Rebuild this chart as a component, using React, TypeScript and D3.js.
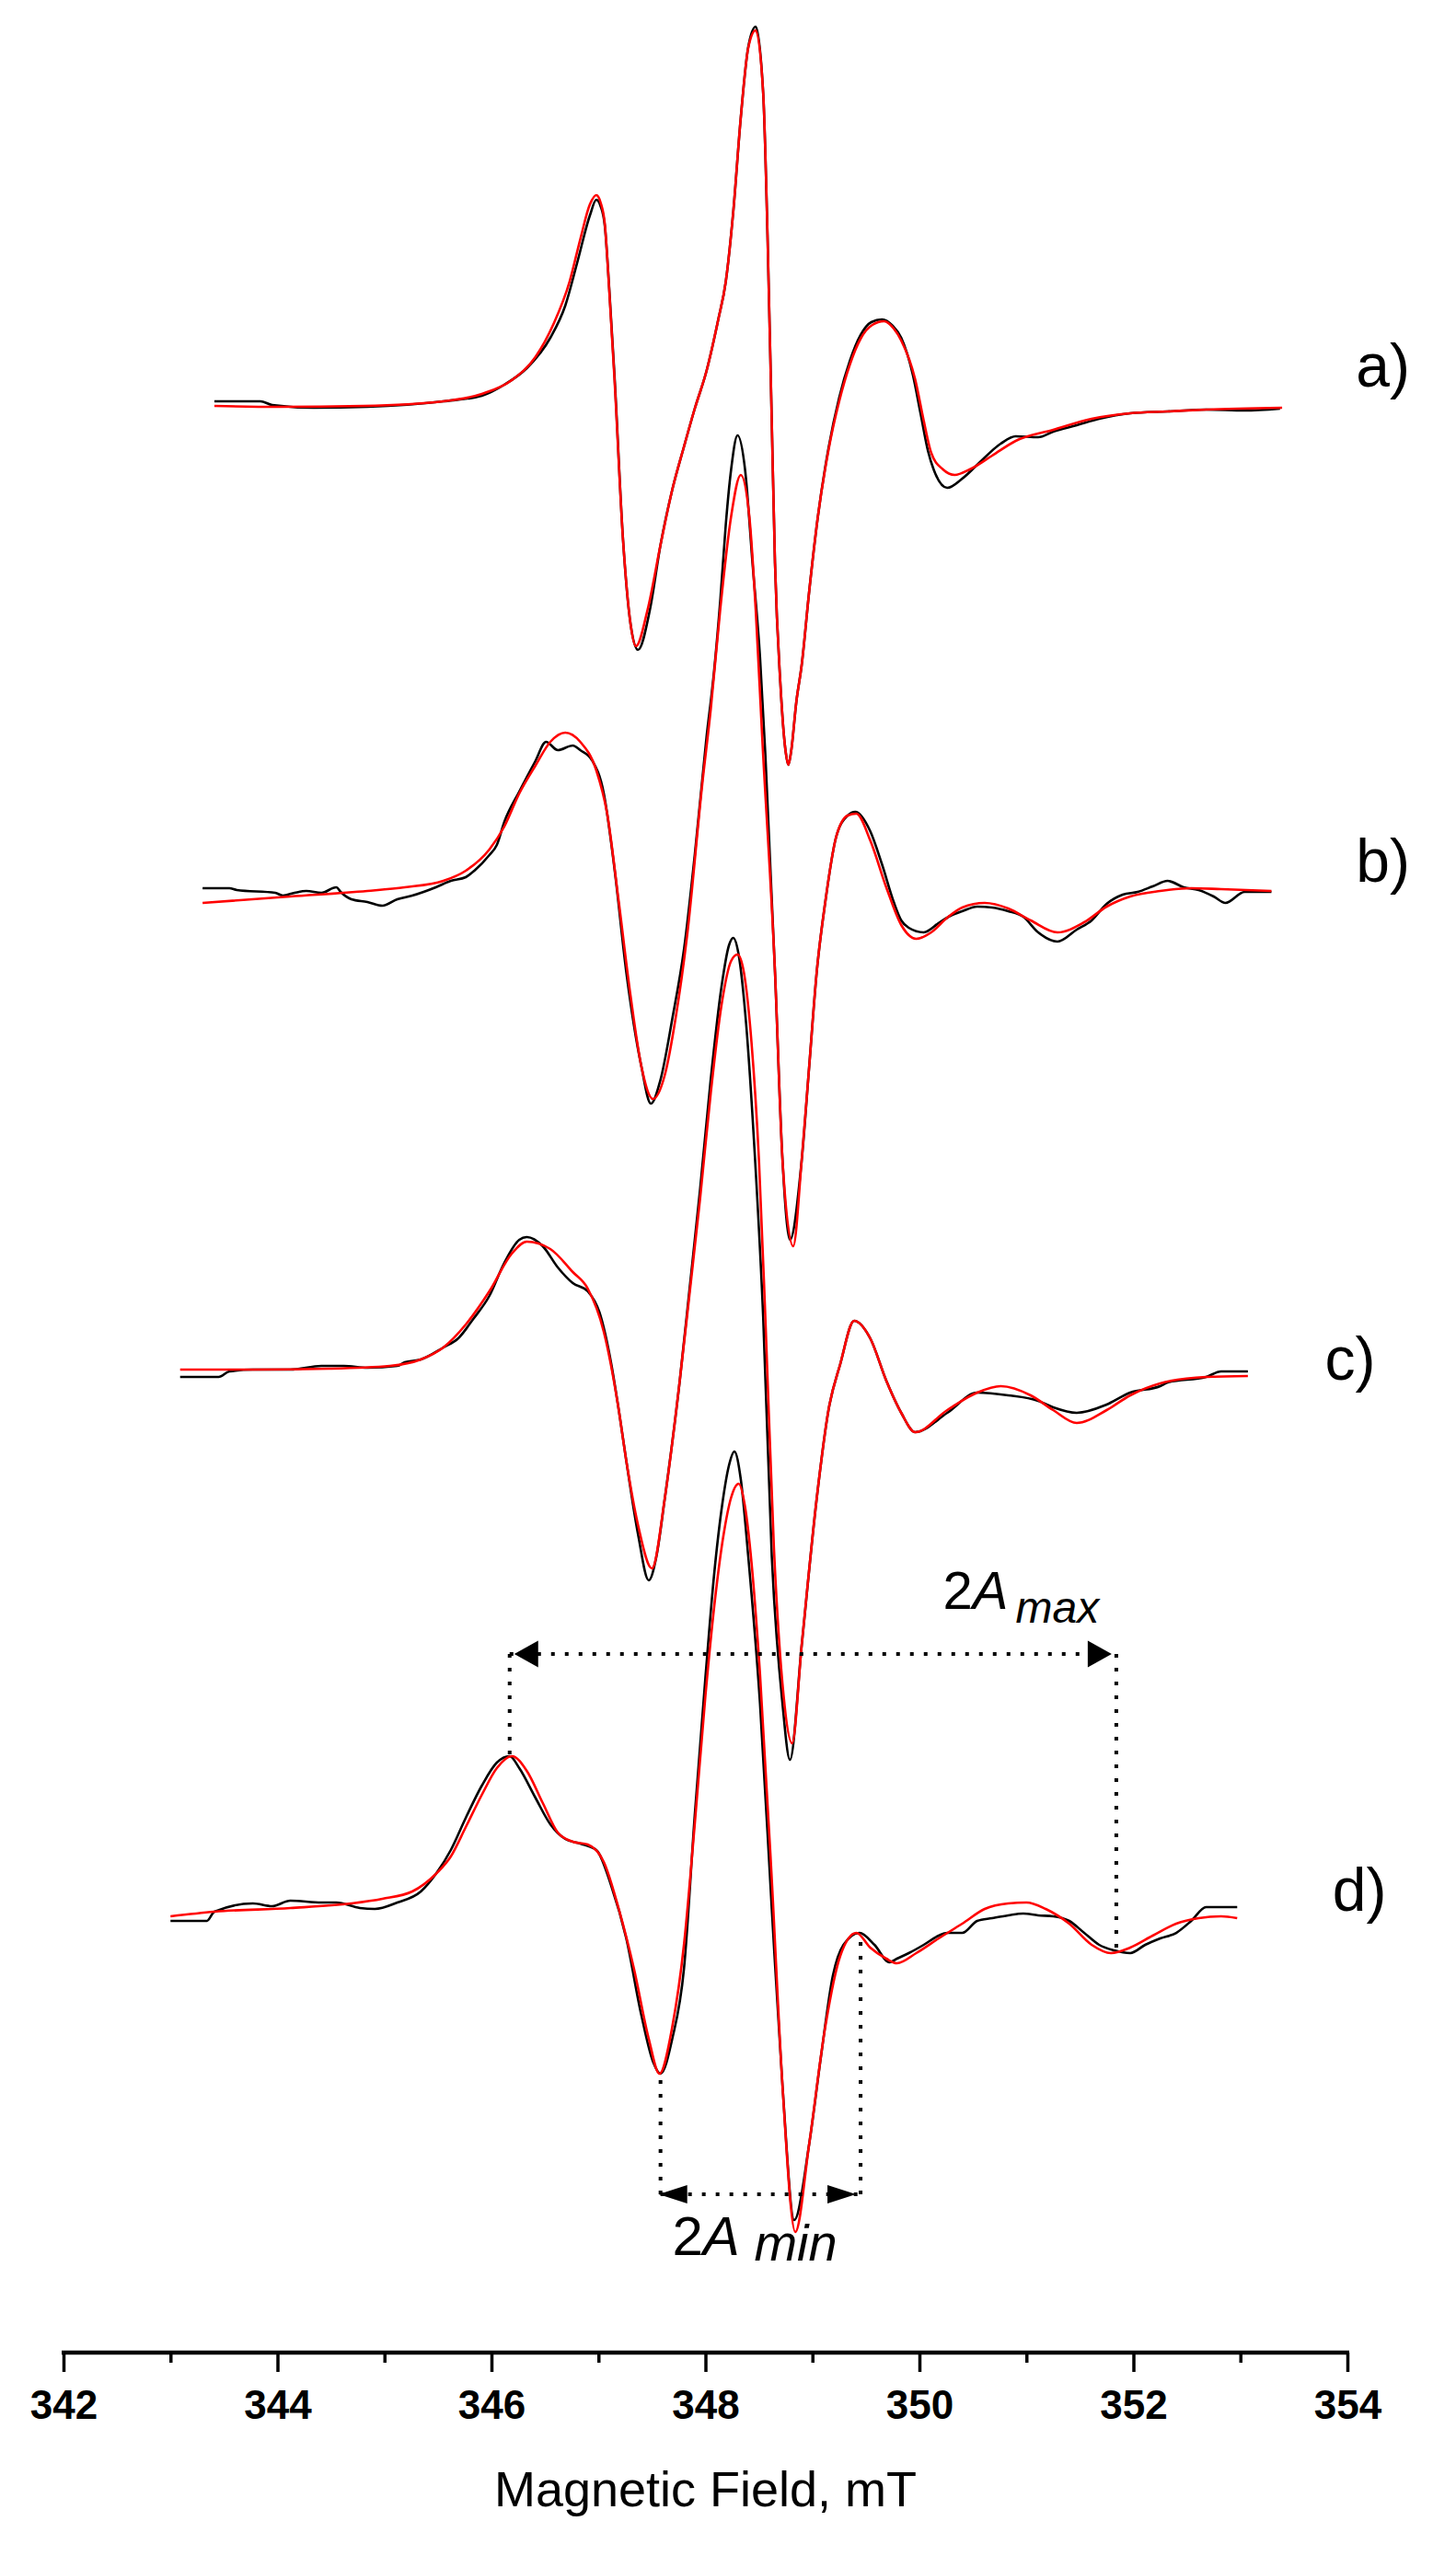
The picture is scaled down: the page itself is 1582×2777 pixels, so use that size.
import React, { useRef, useEffect } from "react";
import * as d3 from "d3";

type Pt = [number, number];

const W = 1582;
const H = 2777;

// axis
const fieldTicks = [342, 344, 346, 348, 350, 352, 354];
const fieldMinorTicks = [343, 345, 347, 349, 351, 353];
const panelLabels = ["a)", "b)", "c)", "d)"];

// vertical offset of every spectrum, same arbitrary units as the intensities
const offsets = [2118, 1590, 1068, 478];

// [field (mT), intensity (a.u.)]
const aExp: Pt[] = [
  [343.41, 6], [343.84, 6], [343.95, 2], [344.34, -1], [344.84, 0], [345.55, 6], [345.91, 12],
  [346.12, 24], [346.33, 42], [346.55, 75], [346.69, 110], [346.8, 156], [346.92, 208], [346.98, 225],
  [347.02, 218], [347.06, 196], [347.1, 130], [347.15, 34], [347.23, -145], [347.3, -236], [347.37, -264],
  [347.48, -221], [347.58, -150], [347.69, -90], [347.8, -43], [347.9, -2], [348.01, 39], [348.12, 95],
  [348.19, 136], [348.26, 212], [348.33, 314], [348.4, 391], [348.47, 413], [348.54, 340], [348.58, 187],
  [348.62, -17], [348.65, -170], [348.7, -300], [348.75, -375], [348.775, -389], [348.8, -375],
  [348.85, -320], [348.9, -280], [348.97, -200], [349.05, -120], [349.15, -45], [349.25, 10],
  [349.35, 50], [349.45, 78], [349.55, 92], [349.65, 95], [349.75, 88], [349.83, 75], [349.94, 34],
  [350.01, -7], [350.08, -48], [350.15, -73], [350.26, -88], [350.4, -78], [350.54, -63], [350.76, -40],
  [350.9, -32], [351.11, -33], [351.25, -27], [351.47, -20], [351.68, -13], [351.97, -7], [352.32, -5],
  [352.68, -3], [353.04, -4], [353.37, -2],
];
const aSim: Pt[] = [
  [343.41, 1], [344.0, 0], [344.8, 1], [345.55, 6], [345.91, 14], [346.19, 29], [346.41, 54],
  [346.58, 90], [346.73, 136], [346.83, 182], [346.92, 220], [346.98, 230], [347.02, 222], [347.06, 198],
  [347.1, 128], [347.15, 30], [347.23, -145], [347.3, -236], [347.35, -260], [347.46, -220], [347.58, -150],
  [347.69, -90], [347.8, -43], [347.9, -2], [348.01, 39], [348.12, 95], [348.19, 136], [348.26, 212],
  [348.33, 314], [348.4, 390], [348.47, 409], [348.54, 340], [348.58, 187], [348.62, -17], [348.65, -170],
  [348.7, -300], [348.75, -375], [348.775, -389], [348.8, -375], [348.85, -320], [348.9, -280],
  [348.97, -200], [349.05, -120], [349.15, -47], [349.25, 6], [349.35, 46], [349.45, 74], [349.56, 89],
  [349.67, 93], [349.76, 85], [349.83, 72], [349.96, 30], [350.04, -15], [350.11, -50], [350.22, -68],
  [350.33, -74], [350.47, -68], [350.68, -53], [350.9, -37], [351.25, -25], [351.61, -13], [351.97, -7],
  [352.32, -5], [352.68, -3], [353.39, -1],
];

const bExp: Pt[] = [
  [343.3, 5], [343.55, 5], [343.62, 3], [343.98, 0], [344.05, -3], [344.16, 0], [344.27, 2], [344.41, 0],
  [344.55, 6], [344.59, 1], [344.69, -7], [344.84, -10], [344.98, -14], [345.12, -7], [345.26, -3],
  [345.48, 6], [345.62, 13], [345.76, 17], [345.84, 24], [345.98, 41], [346.05, 52], [346.12, 77],
  [346.26, 110], [346.41, 143], [346.51, 164], [346.62, 155], [346.76, 160], [346.83, 155], [346.94, 144],
  [347.05, 108], [347.15, 26], [347.26, -86], [347.4, -188], [347.49, -229], [347.58, -203],
  [347.69, -137], [347.8, -61], [347.9, 41], [348.01, 169], [348.08, 240], [348.14, 320], [348.19, 400],
  [348.24, 460], [348.3, 497], [348.37, 460], [348.44, 358], [348.51, 256], [348.56, 150], [348.65, -86],
  [348.72, -290], [348.79, -377], [348.9, -290], [348.97, -188], [349.04, -86], [349.12, -10],
  [349.22, 60], [349.33, 84], [349.4, 88], [349.54, 67], [349.65, 31], [349.76, -10], [349.83, -30],
  [349.9, -38], [350.04, -43], [350.19, -32], [350.29, -25], [350.4, -20], [350.54, -15], [350.68, -16],
  [350.83, -20], [350.97, -26], [351.11, -43], [351.29, -53], [351.47, -40], [351.61, -30],
  [351.75, -12], [351.9, -2], [352.04, 1], [352.18, 7], [352.32, 13], [352.47, 6], [352.61, 3],
  [352.75, -4], [352.86, -11], [353.04, 1], [353.29, 1],
];
const bSim: Pt[] = [
  [343.3, -11], [344.12, -4], [344.84, 2], [345.19, 6], [345.55, 13], [345.76, 24], [345.98, 47],
  [346.12, 72], [346.26, 108], [346.41, 138], [346.55, 164], [346.69, 174], [346.83, 164], [346.98, 133],
  [347.08, 87], [347.19, -10], [347.3, -112], [347.4, -188], [347.51, -224], [347.62, -198],
  [347.72, -137], [347.83, -45], [347.97, 118], [348.05, 200], [348.14, 310], [348.24, 409],
  [348.33, 454], [348.41, 409], [348.47, 307], [348.53, 170], [348.65, -86], [348.72, -290],
  [348.82, -384], [348.9, -290], [348.97, -188], [349.04, -86], [349.12, -10], [349.22, 60],
  [349.33, 84], [349.41, 86], [349.54, 57], [349.69, 6], [349.83, -35], [349.97, -50], [350.11, -43],
  [350.26, -27], [350.4, -16], [350.61, -11], [350.83, -17], [351.04, -30], [351.29, -43],
  [351.54, -32], [351.75, -15], [351.97, -4], [352.25, 2], [352.54, 5], [352.82, 4], [353.29, 2],
];

const cExp: Pt[] = [
  [343.09, -4], [343.45, -4], [343.55, 2], [343.77, 4], [344.12, 4], [344.41, 8], [344.62, 8],
  [344.84, 6], [345.12, 8], [345.19, 12], [345.34, 15], [345.55, 28], [345.69, 38], [345.83, 59],
  [345.98, 84], [346.12, 120], [346.26, 145], [346.33, 148], [346.48, 138], [346.62, 115], [346.76, 98],
  [346.9, 89], [347.01, 66], [347.12, 10], [347.19, -40], [347.26, -95], [347.37, -175], [347.47, -225],
  [347.54, -200], [347.62, -136], [347.76, -8], [347.85, 90], [347.95, 200], [348.05, 320],
  [348.15, 420], [348.22, 465], [348.26, 473], [348.31, 455], [348.38, 380], [348.46, 240], [348.54, 60],
  [348.62, -199], [348.72, -359], [348.79, -420], [348.9, -295], [349.04, -136], [349.15, -40],
  [349.26, 10], [349.39, 57], [349.54, 38], [349.69, -8], [349.83, -43], [349.96, -64], [350.26, -43],
  [350.54, -21], [350.83, -24], [351.11, -30], [351.25, -37], [351.47, -43], [351.75, -34],
  [351.97, -21], [352.25, -14], [352.32, -10], [352.68, -4], [352.82, 2], [353.07, 2],
];
const cSim: Pt[] = [
  [343.09, 4], [343.77, 4], [344.48, 5], [345.05, 8], [345.34, 15], [345.55, 28], [345.76, 53],
  [345.98, 89], [346.19, 130], [346.33, 143], [346.55, 135], [346.76, 110], [346.9, 92], [347.05, 45],
  [347.19, -40], [347.26, -95], [347.37, -165], [347.5, -212], [347.62, -136], [347.76, -8],
  [347.85, 85], [347.95, 190], [348.05, 305], [348.15, 400], [348.24, 448], [348.3, 455], [348.36, 435],
  [348.43, 360], [348.5, 232], [348.56, 60], [348.64, -190], [348.73, -350], [348.81, -402],
  [348.9, -295], [349.04, -136], [349.15, -40], [349.26, 10], [349.39, 57], [349.54, 38], [349.69, -8],
  [349.83, -43], [349.96, -64], [350.26, -40], [350.54, -21], [350.76, -14], [351.04, -24],
  [351.25, -40], [351.47, -54], [351.75, -40], [351.97, -24], [352.25, -11], [352.68, -4], [353.07, -3],
];

const dExp: Pt[] = [
  [343.0, -5], [343.34, -5], [343.41, 5], [343.77, 14], [343.95, 11], [344.12, 17], [344.41, 15],
  [344.55, 15], [344.77, 9], [344.91, 8], [345.12, 15], [345.34, 27], [345.48, 46], [345.62, 72],
  [345.76, 107], [345.91, 142], [346.05, 167], [346.17, 174], [346.26, 161], [346.41, 129], [346.55, 100],
  [346.69, 84], [346.83, 79], [346.98, 72], [347.12, 33], [347.26, -24], [347.4, -107], [347.51, -158],
  [347.58, -171], [347.69, -133], [347.8, -56], [347.9, 110], [348.0, 260], [348.08, 370], [348.16, 450],
  [348.22, 490], [348.27, 505], [348.33, 475], [348.4, 391], [348.51, 231], [348.62, 8], [348.72, -184],
  [348.83, -330], [348.97, -247], [349.08, -152], [349.19, -65], [349.29, -31], [349.44, -18],
  [349.58, -31], [349.72, -50], [349.79, -46], [349.9, -40], [350.04, -31], [350.18, -21], [350.26, -18],
  [350.4, -18], [350.54, -5], [350.68, -2], [350.83, 1], [350.97, 3], [351.11, 1], [351.25, 0],
  [351.4, -5], [351.54, -18], [351.68, -31], [351.82, -37], [351.97, -40], [352.11, -31], [352.25, -24],
  [352.4, -18], [352.54, -5], [352.68, 10], [352.97, 10],
];
const dSim: Pt[] = [
  [343.0, 0], [343.41, 5], [344.12, 9], [344.69, 14], [344.98, 19], [345.26, 27], [345.48, 46],
  [345.62, 65], [345.76, 97], [345.91, 132], [346.05, 161], [346.19, 174], [346.33, 158], [346.48, 123],
  [346.62, 91], [346.76, 81], [346.9, 78], [347.05, 59], [347.19, 8], [347.33, -56], [347.47, -133],
  [347.57, -171], [347.69, -120], [347.8, -30], [347.9, 100], [348.0, 240], [348.09, 345], [348.17, 415],
  [348.24, 455], [348.31, 470], [348.37, 445], [348.43, 385], [348.51, 263], [348.62, 40], [348.72, -184],
  [348.84, -343], [348.97, -247], [349.12, -120], [349.26, -43], [349.41, -18], [349.54, -34],
  [349.69, -46], [349.79, -51], [349.97, -40], [350.18, -24], [350.4, -8], [350.61, 8], [350.83, 14],
  [351.0, 15], [351.18, 8], [351.4, -8], [351.61, -31], [351.79, -40], [351.97, -34], [352.18, -21],
  [352.4, -8], [352.61, -2], [352.82, 0], [352.97, -2],
];

const experimental = [aExp, bExp, cExp, dExp];
const simulated = [aSim, bSim, cSim, dSim];

// splitting markers on spectrum d): [field, intensity where the drop line meets the trace]
const aMaxEnds: Pt[] = [[346.17, 174], [351.84, -37]];
const aMaxLevel = 285;
const aMinEnds: Pt[] = [[347.58, -171], [349.45, -18]];
const aMinLevel = -302;

export default function App() {
  const axisRef = useRef<SVGGElement>(null);

  const x = d3.scaleLinear().domain([342, 354]).range([69, 1464]);
  const y = d3.scaleLinear().domain([0, 2560]).range([2560, 0]);
  const axisY = 2556;
  const font = "'Liberation Sans', Arial, Helvetica, sans-serif";

  useEffect(() => {
    const g = d3.select(axisRef.current);
    g.selectAll("*").remove();
    const major = d3.axisBottom(x).tickValues(fieldTicks).tickSize(21).tickSizeOuter(0).tickPadding(20).tickFormat(d3.format("d"));
    const minor = d3.axisBottom(x).tickValues(fieldMinorTicks).tickSize(11).tickSizeOuter(0).tickFormat(() => "");
    const gMinor = g.append("g").call(minor);
    gMinor.select(".domain").remove();
    gMinor.selectAll("line").attr("stroke-width", 3.5);
    const gMajor = g.append("g").call(major);
    gMajor.select(".domain").attr("stroke-width", 4.5).attr("d", `M${x(342) - 2},0H${x(354) + 2}`);
    gMajor.selectAll("line").attr("stroke-width", 3.5);
    gMajor.selectAll("text")
      .attr("font-family", font)
      .attr("font-weight", "bold")
      .attr("font-size", 44)
      .attr("fill", "#000");
  }, []);

  const lineFor = (off: number) =>
    d3.line<Pt>()
      .x((d) => x(d[0]))
      .y((d) => y(d[1] + off))
      .curve(d3.curveMonotoneX);

  const dOff = offsets[3];
  const labelPos: Pt[] = [[354.08, 22], [354.08, 12], [353.79, -7], [353.86, 6]];

  const arrow = (tipX: number, yy: number, dir: number, len: number, h: number) =>
    `M${tipX},${yy}L${tipX + dir * len},${yy - h / 2}L${tipX + dir * len},${yy + h / 2}Z`;

  const dotted = { stroke: "#000", strokeWidth: 4, strokeDasharray: "4 11", fill: "none" };

  const maxY = y(aMaxLevel + dOff);
  const minY = y(aMinLevel + dOff);

  return (
    <svg width={W} height={H} style={{ position: "absolute", left: 0, top: 0, background: "#fff" }}>
      <rect width={W} height={H} fill="#fff" />
      {experimental.map((s, i) => (
        <path key={"e" + i} d={lineFor(offsets[i])(s) || ""} fill="none" stroke="#000" strokeWidth={2.6} strokeLinejoin="round" />
      ))}
      {simulated.map((s, i) => (
        <path key={"s" + i} d={lineFor(offsets[i])(s) || ""} fill="none" stroke="#ff0000" strokeWidth={2.6} strokeLinejoin="round" />
      ))}

      {/* 2A max */}
      <line x1={x(aMaxEnds[0][0])} x2={x(aMaxEnds[1][0])} y1={maxY} y2={maxY} {...dotted} />
      {aMaxEnds.map((e, i) => (
        <line key={"mx" + i} x1={x(e[0])} x2={x(e[0])} y1={maxY} y2={y(e[1] + dOff)} {...dotted} />
      ))}
      <path d={arrow(x(aMaxEnds[0][0]) + 5, maxY, 1, 26, 29)} fill="#000" />
      <path d={arrow(x(aMaxEnds[1][0]) - 5, maxY, -1, 26, 29)} fill="#000" />
      <text x={x(350.22)} y={y(334 + dOff)} fontFamily={font} fontSize={58} fill="#000">
        2<tspan fontStyle="italic">A</tspan>
        <tspan fontStyle="italic" fontSize={48} dx={8} dy={15}>max</tspan>
      </text>

      {/* 2A min */}
      <line x1={x(aMinEnds[0][0])} x2={x(aMinEnds[1][0])} y1={minY} y2={minY} {...dotted} />
      {aMinEnds.map((e, i) => (
        <line key={"mn" + i} x1={x(e[0])} x2={x(e[0])} y1={minY} y2={y(e[1] + dOff)} {...dotted} />
      ))}
      <path d={arrow(x(aMinEnds[0][0]) - 2, minY, 1, 31, 20)} fill="#000" />
      <path d={arrow(x(aMinEnds[1][0]) - 5, minY, -1, 31, 20)} fill="#000" />
      <text x={x(347.69)} y={y(-368 + dOff)} fontFamily={font} fontSize={60} fill="#000">
        2<tspan fontStyle="italic">A</tspan>
        <tspan fontStyle="italic" fontSize={56} dy={6}>{" min"}</tspan>
      </text>

      {panelLabels.map((t, i) => (
        <text key={t} x={x(labelPos[i][0])} y={y(labelPos[i][1] + offsets[i])} fontFamily={font} fontSize={66} fill="#000">
          {t}
        </text>
      ))}

      <g ref={axisRef} transform={`translate(0,${axisY})`} />
      <text x={x(348)} y={2723} textAnchor="middle" fontFamily={font} fontSize={54} fill="#000">
        Magnetic Field, mT
      </text>
    </svg>
  );
}
